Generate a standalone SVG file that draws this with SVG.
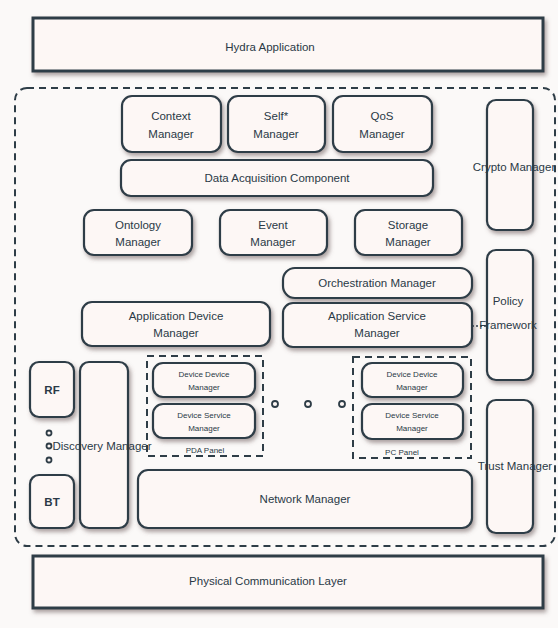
<svg xmlns="http://www.w3.org/2000/svg" width="558" height="628" viewBox="0 0 558 628">
<defs>
<filter id="sh" x="-10%" y="-10%" width="130%" height="140%">
<feDropShadow dx="2" dy="3" stdDeviation="2" flood-color="#6a5a58" flood-opacity="0.55"/>
</filter>
<style>
.bx{fill:#fdf7f5;stroke:#2e3d47;stroke-width:2.2;filter:url(#sh)}
.sq{fill:#fdf7f5;stroke:#2e3d47;stroke-width:3;filter:url(#sh)}
.dash{fill:none;stroke:#2e3d47;stroke-width:2;stroke-dasharray:7 5}
.t{font-family:"Liberation Sans",Arial,sans-serif;font-size:11.5px;fill:#2a3946;text-anchor:middle}
.s{font-family:"Liberation Sans",Arial,sans-serif;font-size:8px;fill:#2a3946;text-anchor:middle}
.b{font-weight:bold}
.dot{fill:#fdf7f5;stroke:#2e3d47;stroke-width:1.8}
</style>
</defs>
<rect width="558" height="628" fill="#fbf9f8"/>

<g id="hydra-application">
<rect class="sq" x="33" y="18" width="510" height="53"/>
<text class="t" x="270" y="51">Hydra Application</text>
</g>

<g id="middleware-boundary">
<rect class="dash" x="15" y="88" width="540" height="458" rx="12"/>
</g>

<g id="context-manager">
<rect class="bx" x="122" y="96" width="99" height="56" rx="10"/>
<text class="t" x="171" y="120">Context</text>
<text class="t" x="171" y="138">Manager</text>
</g>
<g id="self-manager">
<rect class="bx" x="228" y="96" width="97" height="56" rx="10"/>
<text class="t" x="276" y="120">Self*</text>
<text class="t" x="276" y="138">Manager</text>
</g>
<g id="qos-manager">
<rect class="bx" x="333" y="96" width="99" height="56" rx="10"/>
<text class="t" x="382" y="120">QoS</text>
<text class="t" x="382" y="138">Manager</text>
</g>
<g id="data-acquisition">
<rect class="bx" x="121" y="160" width="312" height="36" rx="10"/>
<text class="t" x="277" y="182">Data Acquisition Component</text>
</g>
<g id="ontology-manager">
<rect class="bx" x="84" y="210" width="108" height="45" rx="10"/>
<text class="t" x="138" y="229">Ontology</text>
<text class="t" x="138" y="246">Manager</text>
</g>
<g id="event-manager">
<rect class="bx" x="220" y="210" width="107" height="45" rx="10"/>
<text class="t" x="273" y="229">Event</text>
<text class="t" x="273" y="246">Manager</text>
</g>
<g id="storage-manager">
<rect class="bx" x="355" y="210" width="107" height="45" rx="10"/>
<text class="t" x="408" y="229">Storage</text>
<text class="t" x="408" y="246">Manager</text>
</g>
<g id="orchestration-manager">
<rect class="bx" x="283" y="268" width="189" height="30" rx="12"/>
<text class="t" x="377" y="287">Orchestration Manager</text>
</g>
<g id="application-device-manager">
<rect class="bx" x="82" y="302" width="188" height="44" rx="10"/>
<text class="t" x="176" y="320">Application Device</text>
<text class="t" x="176" y="337">Manager</text>
</g>
<g id="application-service-manager">
<rect class="bx" x="283" y="303" width="189" height="44" rx="10"/>
<text class="t" x="377" y="320">Application Service</text>
<text class="t" x="377" y="337">Manager</text>
</g>

<g id="crypto-manager">
<rect class="bx" x="487" y="100" width="46" height="130" rx="9"/>
<text class="t" x="514" y="171">Crypto Manager</text>
</g>
<g id="policy-framework">
<rect class="bx" x="487" y="250" width="46" height="130" rx="9"/>
<text class="t" x="508" y="305">Policy</text>
<text class="t" x="508" y="329">Framework</text>
</g>
<g id="trust-manager">
<rect class="bx" x="487" y="400" width="46" height="133" rx="9"/>
<text class="t" x="515" y="470">Trust Manager</text>
</g>

<g id="rf">
<rect class="bx" x="30" y="362" width="44" height="55" rx="9"/>
<text class="t b" x="52" y="394">RF</text>
</g>
<g id="bt">
<rect class="bx" x="30" y="475" width="44" height="53" rx="9"/>
<text class="t b" x="52" y="506">BT</text>
</g>
<g id="discovery-manager">
<rect class="bx" x="80" y="362" width="48" height="166" rx="9"/>
<text class="t" x="102" y="450">Discovery Manager</text>
</g>

<g id="device-group-1">
<rect class="dash" x="147" y="356" width="116" height="100"/>
<text class="s" x="205" y="453">PDA Panel</text>
</g>
<g id="device-device-manager-1">
<rect class="bx" x="153" y="363" width="102" height="34" rx="10"/>
<text class="s" x="204" y="377">Device Device</text>
<text class="s" x="204" y="390">Manager</text>
</g>
<g id="device-service-manager-1">
<rect class="bx" x="153" y="404" width="102" height="34" rx="10"/>
<text class="s" x="204" y="418">Device Service</text>
<text class="s" x="204" y="431">Manager</text>
</g>

<g id="device-group-2">
<rect class="dash" x="353" y="357" width="118" height="101"/>
<text class="s" x="402" y="455">PC Panel</text>
</g>
<g id="device-device-manager-2">
<rect class="bx" x="362" y="363" width="101" height="34" rx="10"/>
<text class="s" x="412" y="377">Device Device</text>
<text class="s" x="412" y="390">Manager</text>
</g>
<g id="device-service-manager-2">
<rect class="bx" x="362" y="404" width="101" height="35" rx="10"/>
<text class="s" x="412" y="418">Device Service</text>
<text class="s" x="412" y="431">Manager</text>
</g>

<g id="network-manager">
<rect class="bx" x="138" y="470" width="334" height="58" rx="10"/>
<text class="t" x="305" y="503">Network Manager</text>
</g>

<g id="physical-communication-layer">
<rect class="sq" x="33" y="556" width="510" height="52"/>
<text class="t" x="268" y="585">Physical Communication Layer</text>
</g>

<g id="connectors">
<line x1="472" y1="326" x2="487" y2="326" stroke="#2e3d47" stroke-width="1.5" stroke-dasharray="2 2"/>
<circle class="dot" cx="49" cy="433" r="2.5"/>
<circle class="dot" cx="49" cy="446" r="2.5"/>
<circle class="dot" cx="49" cy="460" r="2.5"/>
<circle class="dot" cx="275" cy="404" r="3"/>
<circle class="dot" cx="308" cy="404" r="3"/>
<circle class="dot" cx="342" cy="404" r="3"/>
</g>
</svg>
